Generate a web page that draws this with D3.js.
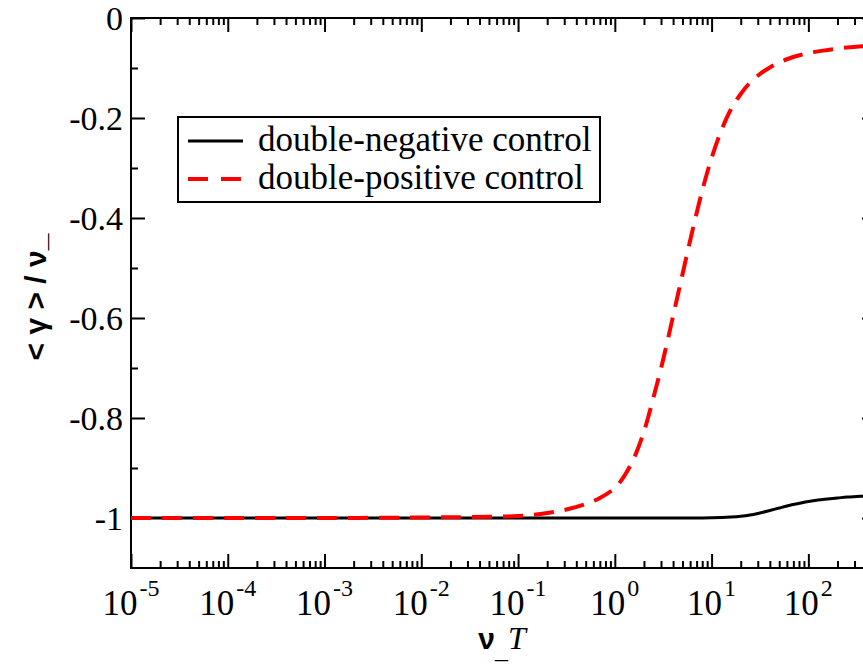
<!DOCTYPE html>
<html>
<head>
<meta charset="utf-8">
<script src="https://cdn.jsdelivr.net/npm/d3@7/dist/d3.min.js"></script>
<style>
html,body{margin:0;padding:0;background:#fff;overflow:hidden;}
svg{display:block;}
</style>
</head>
<body>
<svg id="chart" width="863" height="665"></svg>
<script>
// ---- data ----
const nuT = [1e-5, 1e-4, 1e-3, 1e-2, 0.0316, 0.1, 0.2, 0.316, 0.5, 0.7, 1, 1.26, 1.58, 2, 2.5, 3.16, 3.98, 5.01, 6.31, 7.94, 10, 12.6, 15.8, 20, 25, 31.6, 40, 50, 63, 79, 100, 158, 251, 398, 500];
const doublePositive = [-1.0, -1.0, -1.0, -0.999, -0.998, -0.996, -0.99, -0.983, -0.972, -0.96, -0.94, -0.915, -0.88, -0.827, -0.76, -0.683, -0.598, -0.512, -0.427, -0.348, -0.28, -0.225, -0.183, -0.152, -0.129, -0.112, -0.099, -0.089, -0.081, -0.075, -0.07, -0.064, -0.059, -0.056, -0.055];
const nuTNeg = [1e-5, 1e-3, 1e-1, 1, 5, 10, 15.8, 20, 25, 31.6, 40, 50, 63, 79, 100, 126, 158, 200, 251, 316, 398, 500];
const doubleNegative = [-1.0, -1.0, -1.0, -1.0, -1.0, -0.9995, -0.998, -0.9965, -0.994, -0.99, -0.985, -0.98, -0.975, -0.971, -0.967, -0.964, -0.962, -0.96, -0.958, -0.957, -0.956, -0.955];
const seriesNames = ["double-negative control", "double-positive control"];
const xMajorExponents = [-5, -4, -3, -2, -1, 0, 1, 2];
const yTickValues = [0, -0.2, -0.4, -0.6, -0.8, -1];
const yTickLabels = ["0", "-0.2", "-0.4", "-0.6", "-0.8", "-1"];
const yMinorValues = [-0.1, -0.3, -0.5, -0.7, -0.9];

// ---- layout ----
const L = 131, T = 18, R = 876, B = 568;
const svg = d3.select("#chart");
const x = d3.scaleLog().domain([1e-5, 500]).range([L, R]);
const y = d3.scaleLinear().domain([-1.1, 0]).range([B, T]);

const serif = "'Liberation Serif','Times New Roman',serif";
const sans = "'Liberation Sans',Arial,sans-serif";

// minor x ticks
const xMinor = [];
for (let e = -5; e <= 2; e++) for (let m = 2; m <= 9; m++) { const v = m * Math.pow(10, e); if (v <= 500) xMinor.push(v); }
const xMajor = xMajorExponents.map(e => Math.pow(10, e));

function styleAxis(g){
  g.select(".domain").remove();
  g.selectAll(".tick line").attr("stroke", "#000").attr("stroke-width", 2);
  g.selectAll(".tick text").remove();
}
// bottom
svg.append("g").attr("transform", `translate(0,${B})`).call(d3.axisBottom(x).tickValues(xMajor).tickSize(-14).tickFormat("")).call(styleAxis);
svg.append("g").attr("transform", `translate(0,${B})`).call(d3.axisBottom(x).tickValues(xMinor).tickSize(-7).tickFormat("")).call(styleAxis);
// top
svg.append("g").attr("transform", `translate(0,${T})`).call(d3.axisTop(x).tickValues(xMajor).tickSize(-14).tickFormat("")).call(styleAxis);
svg.append("g").attr("transform", `translate(0,${T})`).call(d3.axisTop(x).tickValues(xMinor).tickSize(-7).tickFormat("")).call(styleAxis);
// left
svg.append("g").attr("transform", `translate(${L},0)`).call(d3.axisLeft(y).tickValues(yTickValues).tickSize(-14).tickFormat("")).call(styleAxis);
svg.append("g").attr("transform", `translate(${L},0)`).call(d3.axisLeft(y).tickValues(yMinorValues).tickSize(-7).tickFormat("")).call(styleAxis);
// right
svg.append("g").attr("transform", `translate(${R},0)`).call(d3.axisRight(y).tickValues(yTickValues).tickSize(-14).tickFormat("")).call(styleAxis);
svg.append("g").attr("transform", `translate(${R},0)`).call(d3.axisRight(y).tickValues(yMinorValues).tickSize(-7).tickFormat("")).call(styleAxis);

// frame
svg.append("rect").attr("x", L).attr("y", T).attr("width", R - L).attr("height", B - T)
  .attr("fill", "none").attr("stroke", "#000").attr("stroke-width", 2);

// y labels
svg.append("g").selectAll("text").data(yTickValues).join("text")
  .attr("x", L - 8).attr("y", d => y(d)).attr("dy", "0.35em")
  .attr("text-anchor", "end").attr("font-family", serif).attr("font-size", 34)
  .text((d, i) => yTickLabels[i]);

// x labels
const xl = svg.append("g").selectAll("text").data(xMajorExponents).join("text")
  .attr("x", e => x(Math.pow(10, e))).attr("y", 615)
  .attr("text-anchor", "middle").attr("font-family", serif);
xl.append("tspan").attr("font-size", 35).text("10");
xl.append("tspan").attr("font-size", 24).attr("dy", -19).attr("dx", 2).text(e => String(e));

// clip
svg.append("clipPath").attr("id", "clip").append("rect").attr("x", L).attr("y", T).attr("width", R - L).attr("height", B - T);

const line = d3.line().x(d => x(d[0])).y(d => y(d[1])).curve(d3.curveCatmullRom.alpha(0.5));
const negData = nuTNeg.map((v, i) => [v, doubleNegative[i]]);
const posData = nuT.map((v, i) => [v, doublePositive[i]]);

svg.append("path").attr("clip-path", "url(#clip)").attr("d", line(negData))
  .attr("fill", "none").attr("stroke", "#000").attr("stroke-width", 3);
svg.append("path").attr("clip-path", "url(#clip)").attr("d", line(posData))
  .attr("fill", "none").attr("stroke", "#ff0000").attr("stroke-width", 4)
  .attr("stroke-dasharray", "20,11");

// legend
const lg = svg.append("g");
lg.append("rect").attr("x", 178).attr("y", 117).attr("width", 422).attr("height", 85)
  .attr("fill", "#fff").attr("stroke", "#000").attr("stroke-width", 2);
const rowsY = [141, 179];
lg.append("line").attr("x1", 188).attr("x2", 243).attr("y1", rowsY[0]).attr("y2", rowsY[0])
  .attr("stroke", "#000").attr("stroke-width", 3);
lg.append("line").attr("x1", 188).attr("x2", 245).attr("y1", rowsY[1]).attr("y2", rowsY[1])
  .attr("stroke", "#ff0000").attr("stroke-width", 4).attr("stroke-dasharray", "20,13");
lg.selectAll("text.lt").data(seriesNames).join("text").attr("class", "lt")
  .attr("x", 258).attr("y", (d, i) => rowsY[i] + 10)
  .attr("font-family", serif).attr("font-size", 35).text(d => d);

// y title (rotated)
svg.append("text").attr("transform", "translate(46,297) rotate(-90)")
  .attr("text-anchor", "middle").attr("font-family", sans)
  .attr("font-weight", "bold").attr("font-size", 30)
  .text("< γ > / ν_");

// x title
const xt = svg.append("text").attr("x", 502).attr("y", 649).attr("text-anchor", "middle");
xt.append("tspan").attr("font-family", sans).attr("font-weight", "bold").attr("font-size", 30).text("ν");
xt.append("tspan").attr("font-family", serif).attr("font-style", "italic").attr("font-size", 26).attr("dy", 9).text("_");
xt.append("tspan").attr("font-family", serif).attr("font-style", "italic").attr("font-size", 32).attr("dy", -9).text("T");
</script>
</body>
</html>
